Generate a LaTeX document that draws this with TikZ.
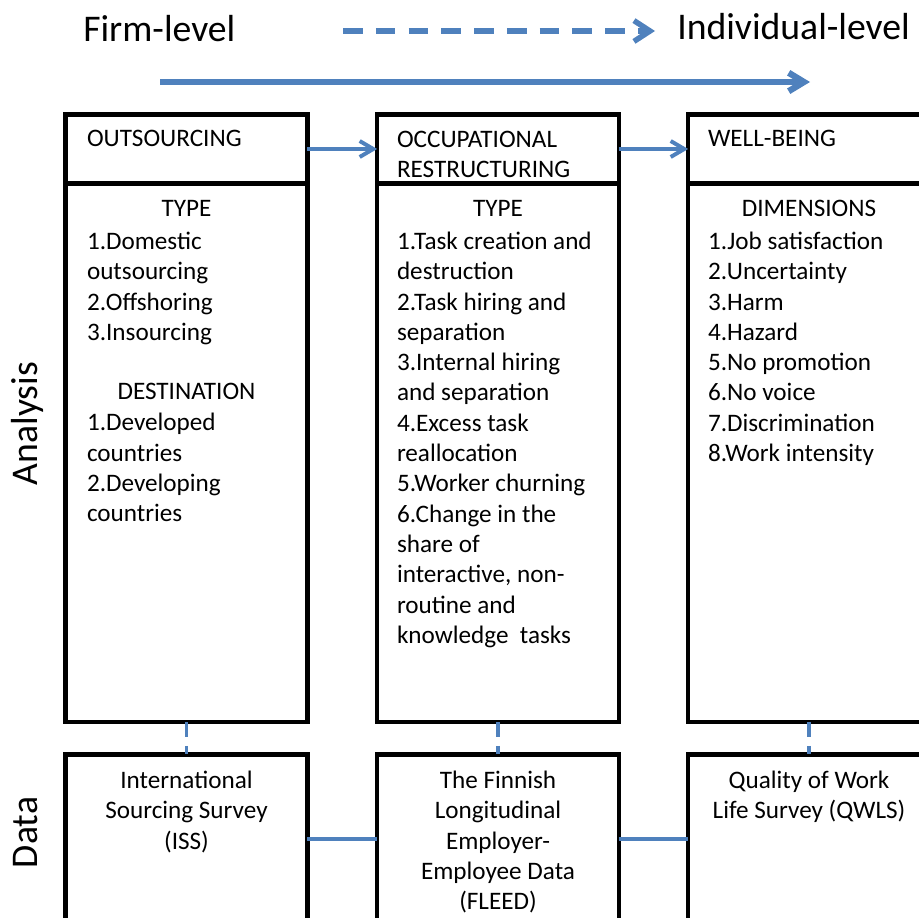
\documentclass[tikz,border=0pt]{standalone}
\usepackage{fontspec}
\setmainfont{Carlito}
\usepackage{xcolor}
\usepackage{tikz}
\usetikzlibrary{arrows.meta}
\definecolor{flowblue}{RGB}{79,129,189}
\tikzset{
	frame/.style={draw=black,line width=3.2pt,minimum width=6.04cm,inner sep=0pt,outer sep=0pt},
	boxtext/.style={font=\fontsize{17.9}{21.55}\selectfont,inner sep=0pt,outer sep=0pt},
	bigtext/.style={font=\fontsize{26.8}{32}\selectfont,inner sep=0pt},
	flow/.style={draw=flowblue,line width=2.8pt},
	barb/.style={-{Straight Barb[length=3.4mm,width=4mm]}}
}
\begin{document}
\begin{tikzpicture}[x=0.025cm,y=-0.025cm]
	\useasboundingbox (0,0) rectangle (919,918);
	%	head, body and data box of each column
	\foreach \name/\x in {out/186.5,occ/498,well/809}{
		\node at(\x,149)[frame,minimum height=1.725cm](\name-head){};
		\node at(\x,452.75)[frame,minimum height=13.4625cm](\name-body){};
		\node at(\x,838.7)[frame,minimum height=4.21cm](\name-data){};
	}
	\node at(87,147)[boxtext,anchor=base west](out-title){OUTSOURCING};
	\node at(397,131)[boxtext,anchor=north west,align=left](occ-title){OCCUPATIONAL\\RESTRUCTURING};
	\node at(708,147)[boxtext,anchor=base west](well-title){WELL-BEING};
	
	\node at(186.5,217)[boxtext,anchor=base](out-type){TYPE};
	\node at(87,232)[boxtext,anchor=north west,align=left](out-list){1.Domestic\\outsourcing\\2.Offshoring\\3.Insourcing};
	\node at(186.5,399.4)[boxtext,anchor=base](out-dest){DESTINATION};
	\node at(87,413.5)[boxtext,anchor=north west,align=left](out-where){1.Developed\\countries\\2.Developing\\countries};
	\node at(498,217)[boxtext,anchor=base](occ-type){TYPE};
	\node at(397,232)[boxtext,anchor=north west,align=left](occ-list){1.Task creation and\\destruction\\2.Task hiring and\\separation\\3.Internal hiring\\and separation\\4.Excess task\\reallocation\\5.Worker churning\\6.Change in the\\share of\\interactive, non-\\routine and\\knowledge\ \ tasks};
	\node at(809,217)[boxtext,anchor=base](well-dim){DIMENSIONS};
	\node at(708,232)[boxtext,anchor=north west,align=left](well-list){1.Job satisfaction\\2.Uncertainty\\3.Harm\\4.Hazard\\5.No promotion\\6.No voice\\7.Discrimination\\8.Work intensity};
	
	\node at(186.5,771)[boxtext,anchor=north,align=center](out-src){International\\Sourcing Survey\\(ISS)};
	\node at(498,771)[boxtext,anchor=north,align=center](occ-src){The Finnish\\Longitudinal\\Employer-\\Employee Data\\(FLEED)};
	\node at(809,771)[boxtext,anchor=north,align=center](well-src){Quality of Work\\Life Survey (QWLS)};
	
	\node at(37,423.5)[bigtext,rotate=90,anchor=base](analysis){Analysis};
	\node at(37,832.5)[bigtext,rotate=90,anchor=base](data){Data};
	\node at(83,42)[bigtext,anchor=base west](firm){Firm-level};
	\node at(677,40)[bigtext,anchor=base west](indiv){Individual-level};
	
	\coordinate (lvl-a) at(343,31);
	\coordinate (lvl-b) at(655,31);
	\draw[flow,line width=3.9pt,dash pattern=on 14pt off 9.3pt,-{Straight Barb[length=4mm,width=5.2mm]}] (lvl-a) -- (lvl-b);
	\coordinate (flow-a) at(160,82);
	\coordinate (flow-b) at(810,82);
	\draw[flow,line width=4.5pt,-{Straight Barb[length=3.8mm,width=4.6mm]}] (flow-a) -- (flow-b);
	
	\draw[flow,barb] (out-head.east) -- (occ-head.west);
	\draw[flow,barb] (occ-head.east) -- (well-head.west);
	\foreach \name in {out,occ,well}
		\draw[flow,dash pattern=on 10.6pt off 6.4pt] (\name-body.south) -- (\name-data.north);
	\draw[flow] (out-data.east) -- (occ-data.west);
	\draw[flow] (occ-data.east) -- (well-data.west);
\end{tikzpicture}
\end{document}
